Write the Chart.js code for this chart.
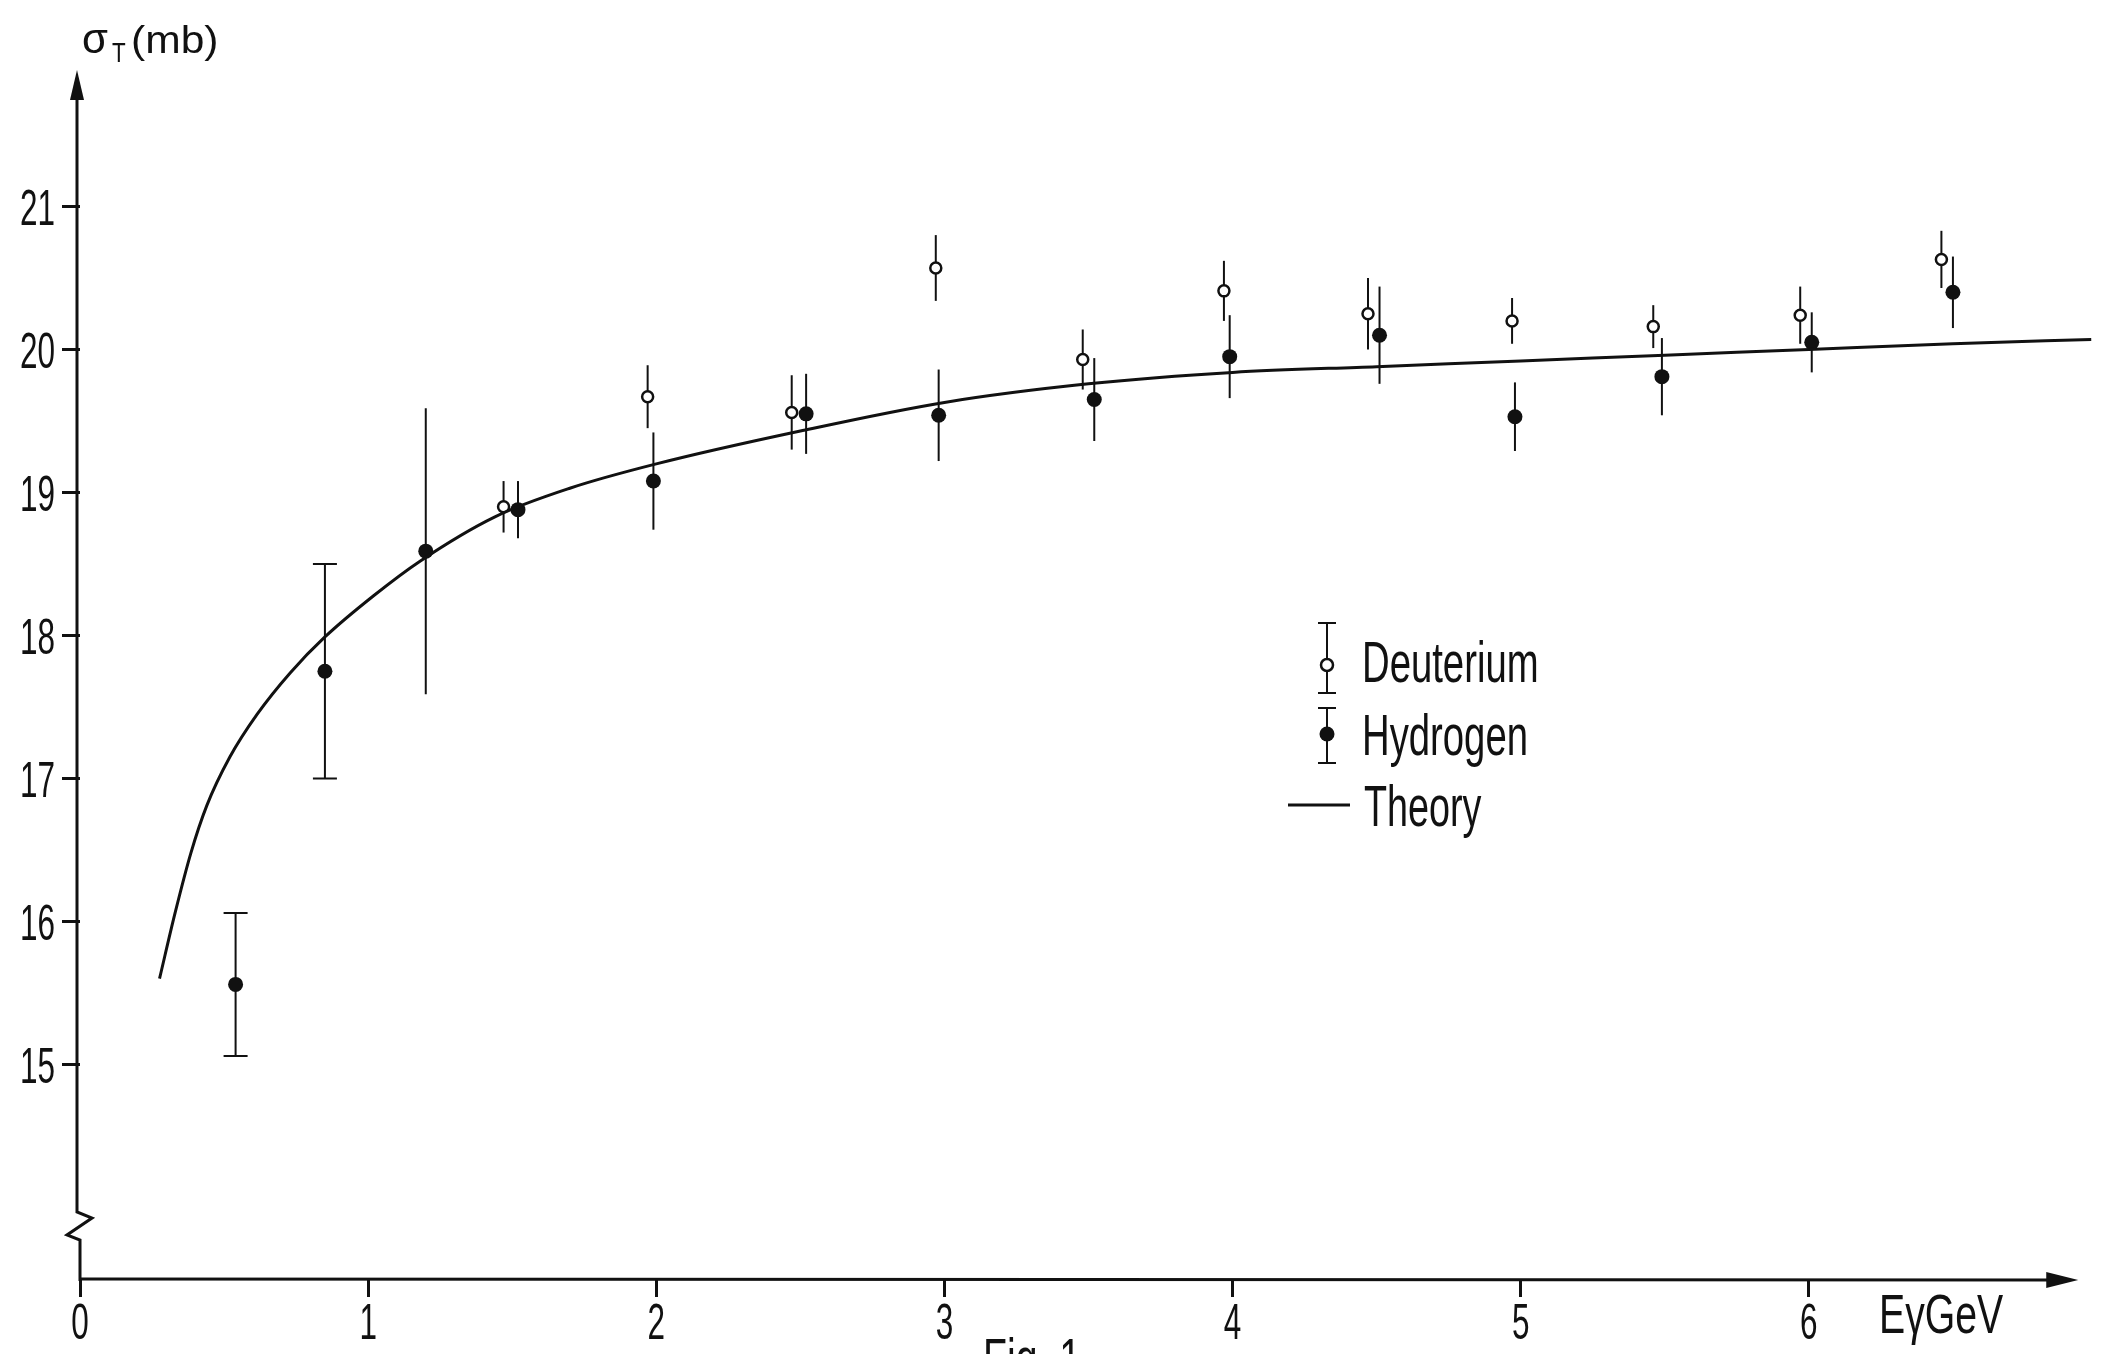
<!DOCTYPE html>
<html>
<head>
<meta charset="utf-8">
<script src="https://cdn.jsdelivr.net/npm/chart.js@4.4.1/dist/chart.umd.min.js"></script>
<style>
html, body { margin: 0; padding: 0; background: #fff; }
#wrap { width: 2107px; height: 1354px; }
</style>
</head>
<body>
<div id="wrap"><canvas id="sigmaChart" width="2107" height="1354"></canvas></div>
<script>
// photon energy (GeV) vs total cross section (mb)
var hydrogenE = [0.54, 0.85, 1.2, 1.52, 1.99, 2.52, 2.98, 3.52, 3.99, 4.51, 4.98, 5.49, 6.01, 6.5];
var hydrogenSigma = [15.56, 17.75, 18.59, 18.88, 19.08, 19.55, 19.54, 19.65, 19.95, 20.1, 19.53, 19.81, 20.05, 20.4];
var hydrogenErr = [0.5, 0.75, 1.0, 0.2, 0.34, 0.28, 0.32, 0.29, 0.29, 0.34, 0.24, 0.27, 0.21, 0.25];

var deuteriumE = [1.47, 1.97, 2.47, 2.97, 3.48, 3.97, 4.47, 4.97, 5.46, 5.97, 6.46];
var deuteriumSigma = [18.9, 19.67, 19.56, 20.57, 19.93, 20.41, 20.25, 20.2, 20.16, 20.24, 20.63];
var deuteriumErr = [0.18, 0.22, 0.26, 0.23, 0.21, 0.21, 0.25, 0.16, 0.15, 0.2, 0.2];

var theoryE = [0.276, 0.33, 0.385, 0.44, 0.52, 0.615, 0.73, 0.85, 1.02, 1.18, 1.44, 1.7, 2.0, 2.5, 3.0, 3.5, 4.0, 4.5, 5.0, 5.5, 6.0, 6.5, 6.98];
var theorySigma = [15.6, 16.06, 16.48, 16.81, 17.15, 17.45, 17.74, 17.99, 18.28, 18.52, 18.83, 19.03, 19.2, 19.43, 19.63, 19.76, 19.84, 19.88, 19.92, 19.96, 20.0, 20.04, 20.07];

var xTicks = [0, 1, 2, 3, 4, 5, 6];
var yTicks = [15, 16, 17, 18, 19, 20, 21];

var FONT = "'Liberation Sans', Arial, sans-serif";
var INK = '#111';

function toPoints(xs, ys) {
    return xs.map(function (x, i) { return { x: x, y: ys[i] }; });
}

// the paper uses narrow stencil lettering, so squeeze the text horizontally
function narrowText(ctx, text, x, y, size, sx, align) {
    ctx.save();
    ctx.font = size + 'px ' + FONT;
    ctx.textAlign = align || 'left';
    ctx.textBaseline = 'alphabetic';
    ctx.fillStyle = INK;
    ctx.translate(x, y);
    ctx.scale(sx, 1);
    ctx.fillText(text, 0, 0);
    ctx.restore();
}

// vertical error bars, drawn under the markers
var errorBarPlugin = {
    id: 'errorBars',
    beforeDatasetsDraw: function (chart, args, opts) {
        var ctx = chart.ctx;
        var xs = chart.scales.x, ys = chart.scales.y;
        opts.sets.forEach(function (set) {
            ctx.save();
            ctx.strokeStyle = INK;
            ctx.lineWidth = 2;
            set.x.forEach(function (e, i) {
                var px = xs.getPixelForValue(e);
                var top = ys.getPixelForValue(set.y[i] + set.err[i]);
                var bot = ys.getPixelForValue(set.y[i] - set.err[i]);
                ctx.beginPath();
                ctx.moveTo(px, top);
                ctx.lineTo(px, bot);
                if (set.capped.indexOf(i) > -1) {
                    ctx.moveTo(px - 12, top);
                    ctx.lineTo(px + 12, top);
                    ctx.moveTo(px - 12, bot);
                    ctx.lineTo(px + 12, bot);
                }
                ctx.stroke();
            });
            ctx.restore();
        });
    }
};

// axis lines with arrow heads, the break on the sigma axis, tick numbers
var axesPlugin = {
    id: 'arrowAxes',
    afterDraw: function (chart) {
        var ctx = chart.ctx;
        var area = chart.chartArea;
        var xs = chart.scales.x, ys = chart.scales.y;
        var L = area.left, B = area.bottom;
        var yTip = ys.getPixelForValue(21.955);
        var xTip = xs.getPixelForValue(6.935);

        ctx.save();
        ctx.strokeStyle = INK;
        ctx.fillStyle = INK;
        ctx.lineWidth = 3;
        ctx.lineJoin = 'miter';

        // sigma axis with zigzag break
        ctx.beginPath();
        ctx.moveTo(L, B + 2);
        ctx.lineTo(L, B - 39);
        ctx.lineTo(L - 13, B - 44);
        ctx.lineTo(L + 12, B - 61);
        ctx.lineTo(L - 3, B - 67);
        ctx.lineTo(L - 3, yTip + 20);
        ctx.stroke();
        ctx.beginPath();
        ctx.moveTo(L - 3, yTip);
        ctx.lineTo(L - 10, yTip + 30);
        ctx.lineTo(L + 4, yTip + 30);
        ctx.closePath();
        ctx.fill();

        // energy axis
        ctx.beginPath();
        ctx.moveTo(L, B);
        ctx.lineTo(xTip - 20, B + 1);
        ctx.stroke();
        ctx.beginPath();
        ctx.moveTo(xTip, B + 1);
        ctx.lineTo(xTip - 32, B - 7);
        ctx.lineTo(xTip - 32, B + 9);
        ctx.closePath();
        ctx.fill();
        ctx.restore();

        ys.ticks.forEach(function (t) {
            narrowText(ctx, String(t.value), L - 25, ys.getPixelForValue(t.value) + 18, 50, 0.63, 'right');
        });
        xs.ticks.forEach(function (t) {
            narrowText(ctx, String(t.value), xs.getPixelForValue(t.value), B + 60, 50, 0.63, 'center');
        });
    }
};

// axis titles, legend and caption
var labelsPlugin = {
    id: 'paperLabels',
    afterDraw: function (chart) {
        var ctx = chart.ctx;

        narrowText(ctx, '\u03c3', 82, 53, 42, 1, 'left');
        narrowText(ctx, 'T', 112, 62, 28, 0.8, 'left');
        narrowText(ctx, '(mb)', 131, 53, 38, 1.12, 'left');

        narrowText(ctx, 'E\u03b3GeV', 1879, 1333, 56, 0.7, 'left');
        narrowText(ctx, 'Fig. 1', 983, 1377, 56, 0.7, 'left');

        // legend symbols
        ctx.save();
        ctx.strokeStyle = INK;
        ctx.fillStyle = INK;
        ctx.lineWidth = 2;
        ctx.beginPath();
        ctx.moveTo(1327, 623); ctx.lineTo(1327, 693);
        ctx.moveTo(1318, 623); ctx.lineTo(1336, 623);
        ctx.moveTo(1318, 693); ctx.lineTo(1336, 693);
        ctx.moveTo(1327, 708); ctx.lineTo(1327, 763);
        ctx.moveTo(1318, 708); ctx.lineTo(1336, 708);
        ctx.moveTo(1318, 763); ctx.lineTo(1336, 763);
        ctx.stroke();
        ctx.beginPath();
        ctx.arc(1327, 665, 6, 0, Math.PI * 2);
        ctx.fillStyle = '#fff';
        ctx.fill();
        ctx.lineWidth = 2.5;
        ctx.stroke();
        ctx.beginPath();
        ctx.fillStyle = INK;
        ctx.arc(1327, 734, 7.5, 0, Math.PI * 2);
        ctx.fill();
        ctx.lineWidth = 3;
        ctx.beginPath();
        ctx.moveTo(1288, 805); ctx.lineTo(1350, 805);
        ctx.stroke();
        ctx.restore();

        narrowText(ctx, 'Deuterium', 1362, 682, 58, 0.66, 'left');
        narrowText(ctx, 'Hydrogen', 1362, 755, 58, 0.66, 'left');
        narrowText(ctx, 'Theory', 1364, 826, 58, 0.65, 'left');
    }
};

var canvasDrawer = document.getElementById('sigmaChart');

new Chart(canvasDrawer, {
    type: 'scatter',
    data: {
        datasets: [{
            label: 'Theory',
            data: toPoints(theoryE, theorySigma),
            showLine: true,
            cubicInterpolationMode: 'monotone',
            borderColor: INK,
            borderWidth: 3,
            pointRadius: 0
        }, {
            label: 'Deuterium',
            data: toPoints(deuteriumE, deuteriumSigma),
            pointRadius: 5.5,
            pointBorderWidth: 2.5,
            pointBackgroundColor: '#fff',
            pointBorderColor: INK
        }, {
            label: 'Hydrogen',
            data: toPoints(hydrogenE, hydrogenSigma),
            pointRadius: 7.5,
            pointBorderWidth: 0,
            pointBackgroundColor: INK,
            pointBorderColor: INK
        }]
    },
    options: {
        responsive: false,
        animation: false,
        devicePixelRatio: 1,
        layout: { padding: { top: 63.5, right: 10, left: 0, bottom: 0 } },
        plugins: {
            legend: { display: false },
            tooltip: { enabled: false },
            errorBars: {
                sets: [
                    { x: deuteriumE, y: deuteriumSigma, err: deuteriumErr, capped: [] },
                    { x: hydrogenE, y: hydrogenSigma, err: hydrogenErr, capped: [0, 1] }
                ]
            }
        },
        scales: {
            x: {
                type: 'linear',
                min: 0,
                max: 7,
                afterBuildTicks: function (scale) {
                    scale.ticks = xTicks.map(function (v) { return { value: v }; });
                },
                afterFit: function (scale) { scale.height = 75; },
                border: { display: false },
                grid: { drawOnChartArea: false, tickLength: 18, tickWidth: 3, tickColor: INK },
                ticks: { display: false }
            },
            y: {
                type: 'linear',
                min: 13.5,
                max: 22,
                afterBuildTicks: function (scale) {
                    scale.ticks = yTicks.map(function (v) { return { value: v }; });
                },
                afterFit: function (scale) { scale.width = 80; },
                border: { display: false },
                grid: { drawOnChartArea: false, tickLength: 18, tickWidth: 3, tickColor: INK },
                ticks: { display: false }
            }
        }
    },
    plugins: [errorBarPlugin, axesPlugin, labelsPlugin]
});
</script>
</body>
</html>
